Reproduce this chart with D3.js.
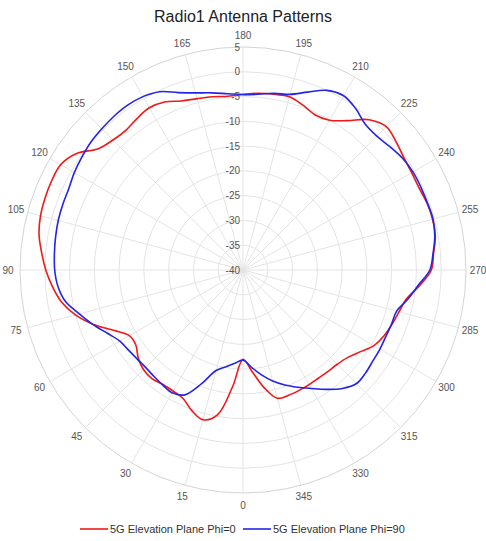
<!DOCTYPE html>
<html><head><meta charset="utf-8">
<script src="https://cdn.jsdelivr.net/npm/d3@7"></script>
<style>body{margin:0;background:#fff}svg{display:block;font-family:"Liberation Sans",Arial,sans-serif}</style>
</head><body><div id="chart"></div>
<script>
const angles = d3.range(0, 360, 5);
const phi0 = [-22,-16.5,-10.3,-8.7,-9.8,-11.4,-11.8,-11.8,-11.4,-11.6,-12.4,-13.6,-13.5,-11.2,-7.9,-5.0,-2.8,-1.4,
  -0.2,0.8,1.8,2.3,2.5,2.6,2.5,1.0,-1.9,-2.9,-3.2,-2.7,-2.2,-2.6,-3.7,-4.2,-4.5,-4.8,
  -4.6,-4.2,-4.0,-3.8,-4.6,-5.5,-5.1,-3.2,-0.4,0.9,0.3,-0.4,-0.7,-0.8,-0.5,-0.4,-0.6,-1.4,
  -2.0,-4.2,-6.5,-7.4,-8.0,-8.6,-9.5,-11.2,-12.5,-13.1,-13.3,-13.4,-13.3,-13.2,-13.1,-13.2,-16.0,-19.5];
const phi90 = [-21.8,-21.1,-20.2,-19.0,-15.6,-12.2,-11.4,-11.7,-12.0,-12.2,-12.1,-11.8,-11.3,-9.8,-7.8,-5.8,-3.6,-2.5,
  -2.0,-1.8,-1.6,-1.4,-1.3,-1.2,-0.7,-0.3,0.1,0.3,0.5,0.6,0.4,-0.3,-1.9,-3.0,-3.7,-4.3,
  -4.6,-4.4,-3.8,-3.3,-1.8,0.0,0.6,-0.3,-1.6,-1.8,-1.3,-0.7,-0.4,-0.4,-0.4,-0.3,-0.7,-1.5,
  -2.3,-4.5,-6.2,-7.9,-8.1,-8.2,-8.1,-8.0,-7.7,-7.6,-8.8,-10.6,-12.4,-13.9,-15.3,-16.8,-18.5,-20.3];
const radialTicks = [5,0,-5,-10,-15,-20,-25,-30,-35,-40];
const angleTicks = d3.range(0, 360, 15);
const seriesNames = ["5G Elevation Plane Phi=0","5G Elevation Plane Phi=90"];
const seriesColors = ["#f01818","#2424e6"];
const title = "Radio1 Antenna Patterns";

const W = 486, H = 541, cx = 243, cy = 270, R = 223;
const svg = d3.select("#chart").append("svg").attr("width", W).attr("height", H);
const r = d3.scaleLinear().domain([-40, 5]).range([0, R]);
const toRad = d => (d + 180) * Math.PI / 180;
const g = svg.append("g").attr("transform", `translate(${cx},${cy})`);

// grid rings
g.selectAll("circle.ring").data(radialTicks.filter(d => d > -40)).join("circle")
  .attr("class","ring").attr("r", d => r(d)).attr("fill","none")
  .attr("stroke", d => d === 5 ? "#d4d4d4" : "#e4e4e4").attr("stroke-width",1);
// spokes
g.selectAll("line.spoke").data(angleTicks).join("line")
  .attr("x1",0).attr("y1",0)
  .attr("x2", d => R * Math.sin(toRad(d))).attr("y2", d => -R * Math.cos(toRad(d)))
  .attr("stroke","#e4e4e4").attr("stroke-width",1);
// angle labels
g.selectAll("text.alab").data(angleTicks).join("text")
  .attr("x", d => (R + 12) * Math.sin(toRad(d)))
  .attr("y", d => -(R + 12) * Math.cos(toRad(d)))
  .attr("text-anchor","middle").attr("dominant-baseline","central")
  .attr("font-size",10).attr("fill","#555").text(d => d);
// series
const line = d3.lineRadial().angle((d,i) => toRad(angles[i])).radius(d => r(d)).curve(d3.curveCatmullRomClosed);
[phi0, phi90].forEach((s, k) => {
  g.append("path").attr("d", line(s)).attr("fill","none")
    .attr("stroke", seriesColors[k]).attr("stroke-width",1.6);
});
// radial labels
g.selectAll("text.rlab").data(radialTicks).join("text")
  .attr("x", -3).attr("y", d => -r(d))
  .attr("text-anchor","end").attr("dominant-baseline","central")
  .attr("font-size",10).attr("fill","#555").text(d => d);

// title
svg.append("text").attr("x", cx).attr("y", 22).attr("text-anchor","middle")
  .attr("font-size",16).attr("fill","#222").text(title);

// legend
const lg = svg.append("g").attr("transform","translate(0,529)");
const items = [{x:80},{x:243}];
items.forEach((it,k) => {
  lg.append("line").attr("x1",it.x).attr("x2",it.x+28).attr("y1",0).attr("y2",0)
    .attr("stroke",seriesColors[k]).attr("stroke-width",1.6);
  lg.append("text").attr("x",it.x+30).attr("y",0).attr("dominant-baseline","central")
    .attr("font-size",11).attr("fill","#333").text(seriesNames[k]);
});
</script></body></html>
